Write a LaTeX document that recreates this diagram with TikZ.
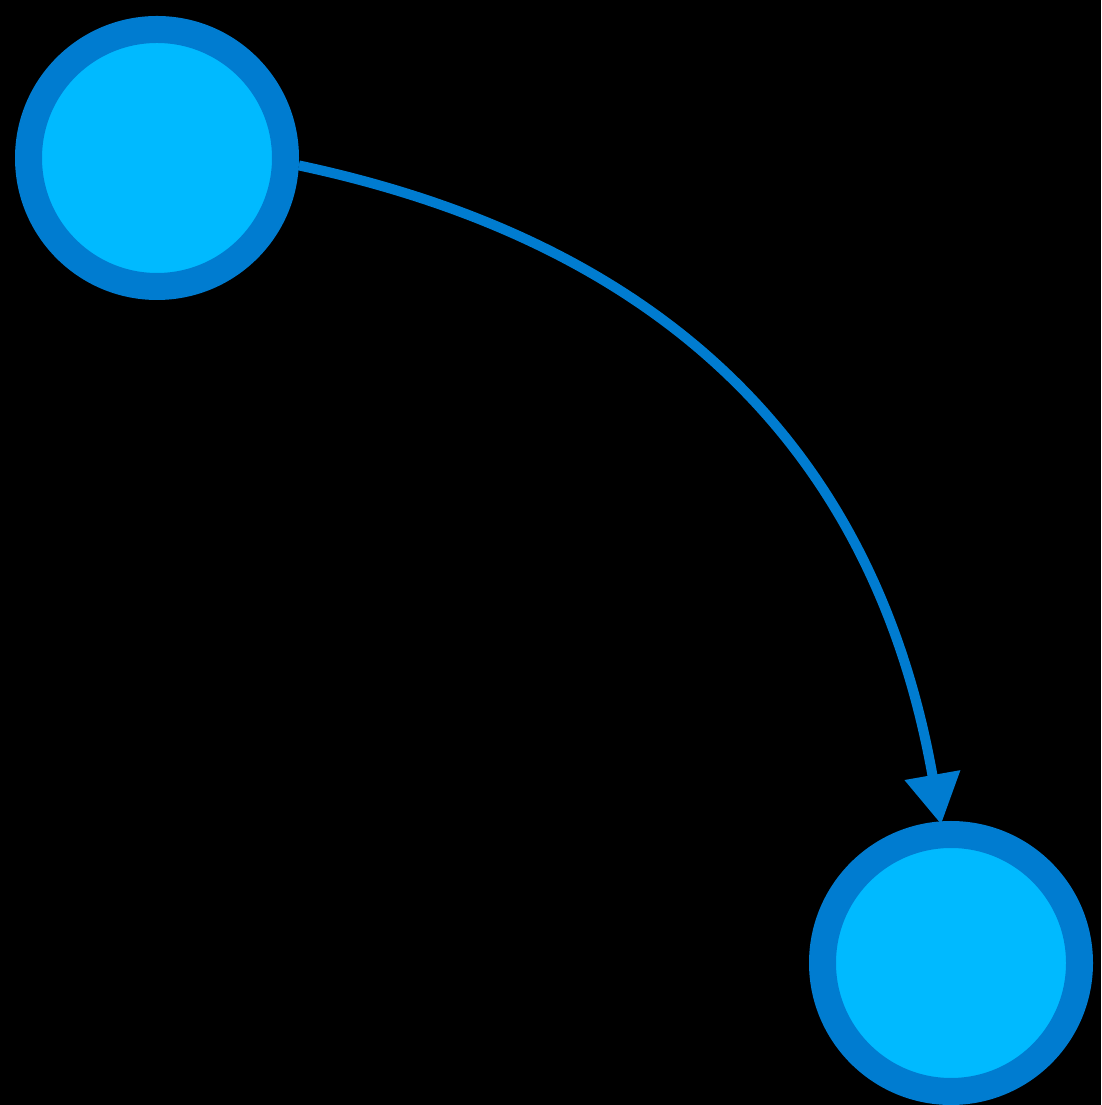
\documentclass[tikz,border=0pt]{standalone}
\usetikzlibrary{arrows.meta}
\definecolor{nodefill}{HTML}{00BAFF}
\definecolor{nodeborder}{HTML}{007CD0}
\begin{document}
\begin{tikzpicture}[x=1pt,y=1pt,
  ball/.style={circle,draw=nodeborder,fill=nodefill,line width=27pt,minimum size=257pt,inner sep=0pt},
  link/.style={draw=nodeborder,line width=10pt,-{Triangle[length=50pt,width=54pt]}}]
\fill[black] (0,0) rectangle (1101,1105);
\useasboundingbox (0,0) rectangle (1101,1105);
\node[ball] (a) at (157,947) {};
\node[ball] (b) at (951,142) {};
\draw[link] (a.-3) to[out=-12,in=100,looseness=1.05] ([yshift=-3pt]b.94);
\end{tikzpicture}
\end{document}
